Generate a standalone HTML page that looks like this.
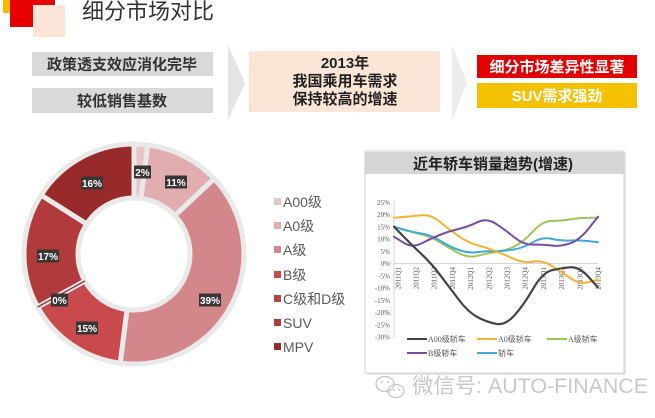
<!DOCTYPE html>
<html><head><meta charset="utf-8"><style>
html,body{margin:0;padding:0;background:#fff;}
svg{display:block;}
text{font-family:"Liberation Sans","Noto Sans CJK SC",sans-serif;}
.s{font-family:"Liberation Serif","Noto Sans CJK SC",serif;}
</style></head><body>
<svg width="655" height="418" viewBox="0 0 655 418" xmlns="http://www.w3.org/2000/svg">
<rect width="655" height="418" fill="#fff"/>
<!-- logo -->
<rect x="3" y="-10" width="20" height="23" fill="#f6b800"/>
<rect x="10" y="-20" width="45" height="47" fill="#e60000"/>
<rect x="33" y="5" width="32" height="32" fill="#fce4d6"/>
<text x="82" y="19" font-size="22" fill="#333">细分市场对比</text>

<!-- left boxes -->
<rect x="32" y="52" width="181" height="24" fill="#d9d9d9"/>
<text x="122" y="69.5" font-size="15" font-weight="bold" fill="#333" text-anchor="middle">政策透支效应消化完毕</text>
<rect x="32" y="88" width="181" height="25" fill="#d9d9d9"/>
<text x="122" y="106" font-size="15" font-weight="bold" fill="#333" text-anchor="middle">较低销售基数</text>
<polygon points="228,45 245,83 228,120" fill="#e4e4e4"/>
<rect x="249" y="51" width="191" height="61" fill="#fbe5d6"/>
<text x="345" y="68" font-size="15" font-weight="bold" fill="#222" text-anchor="middle">2013年</text>
<text x="345" y="86" font-size="15" font-weight="bold" fill="#222" text-anchor="middle">我国乘用车需求</text>
<text x="345" y="104" font-size="15" font-weight="bold" fill="#222" text-anchor="middle">保持较高的增速</text>
<polygon points="452,45 467,83 452,120" fill="#ececec"/>
<rect x="477" y="55" width="160" height="23" fill="#e00000"/>
<text x="557" y="72" font-size="15" font-weight="bold" fill="#fff" text-anchor="middle">细分市场差异性显著</text>
<rect x="477" y="83" width="160" height="25" fill="#f5c000"/>
<text x="557" y="101" font-size="15" font-weight="bold" fill="#fff" text-anchor="middle">SUV需求强劲</text>

<!-- donut -->
<g stroke="#e9e9e9" stroke-width="5" stroke-linejoin="miter">
<path d="M134,144 A110,110 0 0 1 147.78,144.87 L141.02,198.44 A56,56 0 0 0 134,198 Z" fill="#e8c4c5"/>
<path d="M147.78,144.87 A110,110 0 0 1 214.19,178.7 L174.82,215.67 A56,56 0 0 0 141.02,198.44 Z" fill="#e1adaf"/>
<path d="M214.19,178.7 A110,110 0 0 1 120.22,363.13 L126.98,309.56 A56,56 0 0 0 174.82,215.67 Z" fill="#d4878a"/>
<path d="M120.22,363.13 A110,110 0 0 1 37.61,307 L84.93,280.98 A56,56 0 0 0 126.98,309.56 Z" fill="#c84a4c"/>
<path d="M37.61,307 A110,110 0 0 1 41.13,195.06 L86.72,224 A56,56 0 0 0 84.93,280.98 Z" fill="#b13a3c"/>
<path d="M41.13,195.06 A110,110 0 0 1 134,144 L134,198 A56,56 0 0 0 86.72,224 Z" fill="#992a2c"/>
</g>
<line x1="84.9" y1="281" x2="37.6" y2="307" stroke="#8b3a3a" stroke-width="1.3"/>
<g font-size="10" font-weight="bold" fill="#fff" text-anchor="middle">
<rect x="134" y="165.5" width="17" height="13" fill="#3a3535"/><text x="142.5" y="176">2%</text>
<rect x="165" y="175.5" width="22" height="13" fill="#3a3535"/><text x="176" y="186">11%</text>
<rect x="81" y="176.5" width="22" height="13" fill="#3a3535"/><text x="92" y="187">16%</text>
<rect x="37" y="249.5" width="22" height="13" fill="#3a3535"/><text x="48" y="260">17%</text>
<rect x="51" y="293.5" width="17" height="13" fill="#3a3535"/><text x="59.5" y="304">0%</text>
<rect x="76" y="321.5" width="22" height="13" fill="#3a3535"/><text x="87" y="332">15%</text>
<rect x="199" y="293.5" width="22" height="13" fill="#3a3535"/><text x="210" y="304">39%</text>
</g>

<!-- donut legend -->
<g font-size="14" fill="#595959">
<rect x="274" y="198" width="7" height="7" fill="#e8c4c5"/><text x="283" y="207">A00级</text>
<rect x="274" y="222" width="7" height="7" fill="#e1adaf"/><text x="283" y="231">A0级</text>
<rect x="274" y="246" width="7" height="7" fill="#d4878a"/><text x="283" y="255">A级</text>
<rect x="274" y="271" width="7" height="7" fill="#c84a4c"/><text x="283" y="280">B级</text>
<rect x="274" y="295" width="7" height="7" fill="#b84244"/><text x="283" y="304">C级和D级</text>
<rect x="274" y="319" width="7" height="7" fill="#b13a3c"/><text x="283" y="328">SUV</text>
<rect x="274" y="343" width="7" height="7" fill="#992a2c"/><text x="283" y="352">MPV</text>
</g>

<!-- line chart box -->
<rect x="367" y="153" width="259" height="222" fill="#e6e6e6"/>
<rect x="365" y="151" width="259" height="222" fill="#fff" stroke="#cfcfcf" stroke-width="1"/>
<rect x="365.5" y="152" width="258" height="22" fill="#d5d5d5"/>
<text x="493" y="169" font-size="15" font-weight="bold" fill="#222" text-anchor="middle">近年轿车销量趋势(增速)</text>

<!-- axes -->
<line x1="394" y1="200" x2="394" y2="338" stroke="#c8c8c8" stroke-width="0.8"/>
<line x1="394" y1="263.5" x2="598" y2="263.5" stroke="#c8c8c8" stroke-width="0.8"/>
<g class="s" font-size="7" fill="#555" text-anchor="end">
<text class="s" x="390" y="205">25%</text>
<text class="s" x="390" y="217">20%</text>
<text class="s" x="390" y="229.5">15%</text>
<text class="s" x="390" y="241.5">10%</text>
<text class="s" x="390" y="254">5%</text>
<text class="s" x="390" y="266">0%</text>
<text class="s" x="390" y="278.5">-5%</text>
<text class="s" x="390" y="290.5">-10%</text>
<text class="s" x="390" y="303">-15%</text>
<text class="s" x="390" y="315">-20%</text>
<text class="s" x="390" y="327.5">-25%</text>
<text class="s" x="390" y="339.5">-30%</text>
</g>
<g class="s" font-size="7" fill="#555" text-anchor="end">
<text class="s" transform="translate(400.5,267) rotate(-90)">2011Q1</text>
<text class="s" transform="translate(418.5,267) rotate(-90)">2011Q2</text>
<text class="s" transform="translate(436.5,267) rotate(-90)">2011Q3</text>
<text class="s" transform="translate(455,267) rotate(-90)">2011Q4</text>
<text class="s" transform="translate(473,267) rotate(-90)">2012Q1</text>
<text class="s" transform="translate(491.5,267) rotate(-90)">2012Q2</text>
<text class="s" transform="translate(509.5,267) rotate(-90)">2012Q3</text>
<text class="s" transform="translate(527.5,267) rotate(-90)">2012Q4</text>
<text class="s" transform="translate(546,267) rotate(-90)">2013Q1</text>
<text class="s" transform="translate(564,267) rotate(-90)">2013Q2</text>
<text class="s" transform="translate(582.5,267) rotate(-90)">2013Q3</text>
<text class="s" transform="translate(600.5,267) rotate(-90)">2013Q4</text>
</g>

<!-- series -->
<g fill="none" stroke-width="2" stroke-linecap="round" stroke-linejoin="round">
<path stroke="#9cc55b" d="M394,226.7 L403.25,229.5 Q412.5,232.3 421.8,234.5 Q431.1,236.7 440.35,242.5 Q449.6,248.3 458.9,253.3 Q468.2,258.3 477.45,255.8 Q486.7,253.3 496,252.15 Q505.3,251 514.55,246.35 Q523.8,241.7 533.1,231.35 Q542.4,221 551.65,221 Q560.9,221 570.2,219.35 Q579.5,217.7 588.75,217.7 L598,217.7"/>
<path stroke="#45a9d6" d="M394,226.7 L403.25,229.5 Q412.5,232.3 421.8,233.65 Q431.1,235 440.35,240.85 Q449.6,246.7 458.9,250 Q468.2,253.3 477.45,252.15 Q486.7,251 496,251 Q505.3,251 514.55,249.35 Q523.8,247.7 533.1,242.2 Q542.4,236.7 551.65,238.85 Q560.9,241 570.2,240.5 Q579.5,240 588.75,241.15 L598,242.3"/>
<path stroke="#f2b236" d="M394,217.7 L403.25,217 Q412.5,216.3 421.8,215.3 Q431.1,214.3 440.35,222.15 Q449.6,230 458.9,236.35 Q468.2,242.7 477.45,245.2 Q486.7,247.7 496,251.35 Q505.3,255 514.55,259.15 Q523.8,263.3 533.1,261.65 Q542.4,260 551.65,265.85 Q560.9,271.7 570.2,278 Q579.5,284.3 588.75,282.15 L598,280"/>
<path stroke="#7b4c9e" d="M394,236.7 L403.25,242.5 Q412.5,248.3 421.8,243.3 Q431.1,238.3 440.35,234.65 Q449.6,231 458.9,228.85 Q468.2,226.7 477.45,222.2 Q486.7,217.7 496,223.85 Q505.3,230 514.55,237.5 Q523.8,245 533.1,244.65 Q542.4,244.3 551.65,245.5 Q560.9,246.7 570.2,243.35 Q579.5,240 588.75,228.35 L598,216.7"/>
<path stroke="#444" stroke-width="2.2" d="M394,226.7 L403.25,236.25 Q412.5,245.8 421.8,254.4 Q431.1,263 440.35,275.3 Q449.6,287.6 458.9,299.9 Q468.2,312.2 477.45,317.1 Q486.7,322 496,323.85 Q505.3,325.7 514.55,315.25 Q523.8,304.8 533.1,288.8 Q542.4,272.8 551.65,270.35 Q560.9,267.9 570.2,267.3 Q579.5,266.7 588.75,277.15 L598,287.6"/>
</g>

<!-- chart legend -->
<g stroke-width="2">
<line x1="407" y1="339" x2="427" y2="339" stroke="#444"/>
<line x1="477" y1="339" x2="497" y2="339" stroke="#f2b236"/>
<line x1="547" y1="339" x2="567" y2="339" stroke="#9cc55b"/>
<line x1="407" y1="353" x2="427" y2="353" stroke="#7b4c9e"/>
<line x1="477" y1="353" x2="497" y2="353" stroke="#45a9d6"/>
</g>
<g class="s" font-size="8" fill="#555">
<text class="s" x="428" y="342">A00级轿车</text>
<text class="s" x="498" y="342">A0级轿车</text>
<text class="s" x="568" y="342">A级轿车</text>
<text class="s" x="428" y="356">B级轿车</text>
<text class="s" x="498" y="356">轿车</text>
</g>

<!-- watermark -->
<g fill="none" stroke="#c4c4c4" stroke-width="1.3">
<ellipse cx="385" cy="384" rx="9" ry="7.5"/>
<ellipse cx="396" cy="391" rx="8" ry="6.5"/>
</g>
<circle cx="382" cy="382" r="1" fill="#c4c4c4"/><circle cx="388" cy="382" r="1" fill="#c4c4c4"/>
<circle cx="394" cy="390" r="1" fill="#c4c4c4"/><circle cx="399" cy="390" r="1" fill="#c4c4c4"/>
<text x="412" y="393" font-size="21" fill="#c8c8c8" textLength="236" lengthAdjust="spacingAndGlyphs">微信号: AUTO-FINANCE</text>
</svg>
</body></html>
